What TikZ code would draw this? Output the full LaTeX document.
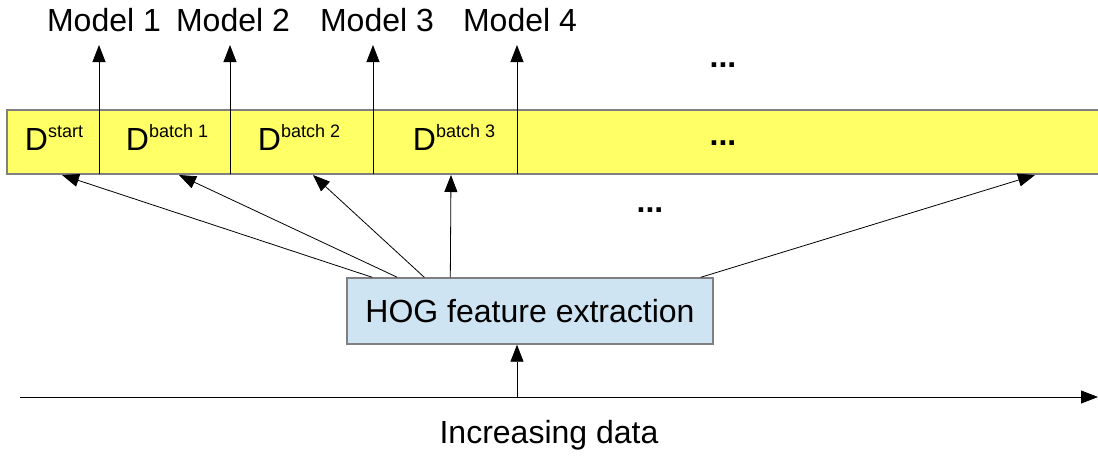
\documentclass[tikz,border=0pt]{standalone}
\usepackage{fontspec}
\setmainfont{Liberation Sans}
\usetikzlibrary{arrows.meta}

\definecolor{bandyellow}{HTML}{FFFF66}
\definecolor{boxblue}{HTML}{CFE4F2}

\newcommand{\dsup}[1]{D\raisebox{6.5pt}{\fontsize{9}{10}\selectfont #1}}

\begin{document}
\begin{tikzpicture}[x=0.5pt,y=-0.5pt,
  lbl/.style={font=\fontsize{16}{19}\selectfont, inner sep=0pt},
  arr/.style={-{Triangle[length=8.5pt,width=6.5pt]}, black}]
\useasboundingbox (0,0) rectangle (1098,456);
% data band
\draw [fill=bandyellow, draw=gray, line width=0.7pt] (7,110) rectangle (1104,174);
\node [lbl, anchor=base] (dstart) at (54,150) {\dsup{start}};
\node [lbl, anchor=base] (dbatch1) at (167,150) {\dsup{batch 1}};
\node [lbl, anchor=base] (dbatch2) at (299,150) {\dsup{batch 2}};
\node [lbl, anchor=base] (dbatch3) at (454,150) {\dsup{batch 3}};
\node [lbl] (dotsband) at (723,143) {\bfseries ...};
% models
\node [lbl] (model1) at (104,20) {Model 1};
\node [lbl] (model2) at (233,20) {Model 2};
\node [lbl] (model3) at (377,20) {Model 3};
\node [lbl] (model4) at (520,20) {Model 4};
\node [lbl] (dotstop) at (723,65) {\bfseries ...};
\foreach \i/\x in {1/99, 2/230, 3/373, 4/517} {
  \coordinate (cut\i) at (\x,174);
  \draw [arr] (cut\i) -- (cut\i |- 0,45);
}
% feature extraction
\node [lbl, draw=gray, line width=0.7pt, fill=boxblue, minimum width=183pt, minimum height=33pt] (hog) at (530,311) {HOG feature extraction};
\coordinate (to1) at (62,175);
\coordinate (to2) at (179,175);
\coordinate (to3) at (313,175);
\coordinate (to4) at (451,175);
\coordinate (to5) at (1035,175);
\draw [arr] ([xshift=13pt]hog.north west) -- (to1);
\draw [arr] ([xshift=25.5pt]hog.north west) -- (to2);
\draw [arr] ([xshift=39pt]hog.north west) -- (to3);
\draw [arr] ([xshift=52pt]hog.north west) -- (to4);
\draw [arr] ([xshift=-6.5pt]hog.north east) -- (to5);
\node [lbl] (dotsmid) at (650,210) {\bfseries ...};
% data axis
\coordinate (axstart) at (20,397);
\coordinate (axend) at (1098,397);
\coordinate (axhog) at (517,397);
\draw [arr] (axstart) -- (axend);
\draw [arr] (axhog) -- (axhog |- hog.south);
\node [lbl] (incdata) at (549,435) {Increasing data};
\end{tikzpicture}
\end{document}
